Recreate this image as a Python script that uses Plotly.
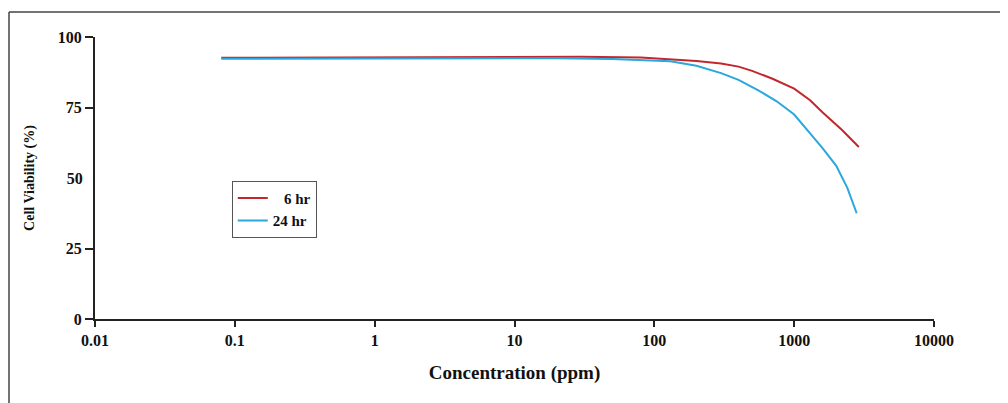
import plotly.graph_objects as go

conc_6hr = [0.08, 1, 10, 30, 80, 130, 200, 300, 400, 500, 700, 1000, 1300, 1600, 2200, 2900]
viab_6hr = [92.6, 92.7, 92.9, 93.0, 92.7, 92.2, 91.5, 90.6, 89.5, 88.0, 85.2, 81.7, 77.6, 73.2, 67.0, 61.0]

conc_24hr = [0.08, 1, 10, 20, 50, 100, 130, 200, 300, 400, 550, 750, 1000, 1300, 1600, 2000, 2400, 2800]
viab_24hr = [92.3, 92.4, 92.5, 92.5, 92.2, 91.8, 91.4, 89.8, 87.2, 84.8, 81.2, 77.2, 72.5, 65.8, 60.5, 54.3, 46.5, 37.5]

x_ticks = [0.01, 0.1, 1, 10, 100, 1000, 10000]
x_labels = ["0.01", "0.1", "1", "10", "100", "1000", "10000"]
y_ticks_marked = [0, 25, 75, 100]
y_ticks_unmarked = [50]

FONT = "Liberation Serif"
TICKFONT = dict(family=FONT, size=16, weight="bold", color="#111")

fig = go.Figure()
fig.add_trace(go.Scatter(x=conc_6hr, y=viab_6hr, mode="lines",
                         name="\u00a0\u00a0 6 hr", line=dict(color="#c1272d", width=2)))
fig.add_trace(go.Scatter(x=conc_24hr, y=viab_24hr, mode="lines",
                         name="24 hr", line=dict(color="#2aa7dc", width=2)))

fig.update_layout(
    width=1008, height=403,
    margin=dict(l=87, r=82, t=29, b=92),
    paper_bgcolor="white", plot_bgcolor="white",
    font=dict(family=FONT, size=14, color="#111"),
    showlegend=True,
    legend=dict(x=0.163, y=0.49, xanchor="left", yanchor="top",
                bordercolor="#555", borderwidth=1, bgcolor="white",
                font=dict(family=FONT, size=15, color="#111", weight="bold"),
                tracegroupgap=0, itemwidth=30),
    xaxis=dict(type="log", range=[-2, 4], tickvals=x_ticks, ticktext=x_labels,
               showgrid=False, zeroline=False, showline=True, linecolor="#222", linewidth=2,
               ticks="outside", ticklen=6, tickwidth=2, tickcolor="#222",
               tickfont=TICKFONT,
               title=dict(text="<b>Concentration (ppm)</b>", font=dict(family=FONT, size=19), standoff=17)),
    yaxis=dict(range=[0, 100], tickvals=y_ticks_marked,
               showgrid=False, zeroline=False, showline=True, linecolor="#222", linewidth=2,
               ticks="outside", ticklen=8, tickwidth=2, tickcolor="#222",
               tickfont=TICKFONT,
               title=dict(text="<b>Cell Viability (%)</b>", font=dict(family=FONT, size=14), standoff=20)),
    yaxis2=dict(range=[0, 100], tickvals=y_ticks_unmarked, overlaying="y", side="left",
                showgrid=False, zeroline=False, showline=False,
                ticks="outside", ticklen=8, tickwidth=2, tickcolor="rgba(0,0,0,0)",
                tickfont=TICKFONT),
)
# invisible trace to activate the secondary y axis carrying the unmarked "50" label
fig.add_trace(go.Scatter(x=[conc_6hr[0]], y=[viab_6hr[0]], yaxis="y2", mode="lines",
                         showlegend=False, hoverinfo="skip", line=dict(color="rgba(0,0,0,0)")))

# outer frame (top and left edges visible in the reference)
fig.add_shape(type="line", xref="paper", yref="paper", x0=-0.1025, x1=1.2, y0=1.0887, y1=1.0887,
              line=dict(color="#444", width=1.5))
fig.add_shape(type="line", xref="paper", yref="paper", x0=-0.1025, x1=-0.1025, y0=1.0887, y1=-0.4,
              line=dict(color="#444", width=1.5))

fig.write_html("out.html")
